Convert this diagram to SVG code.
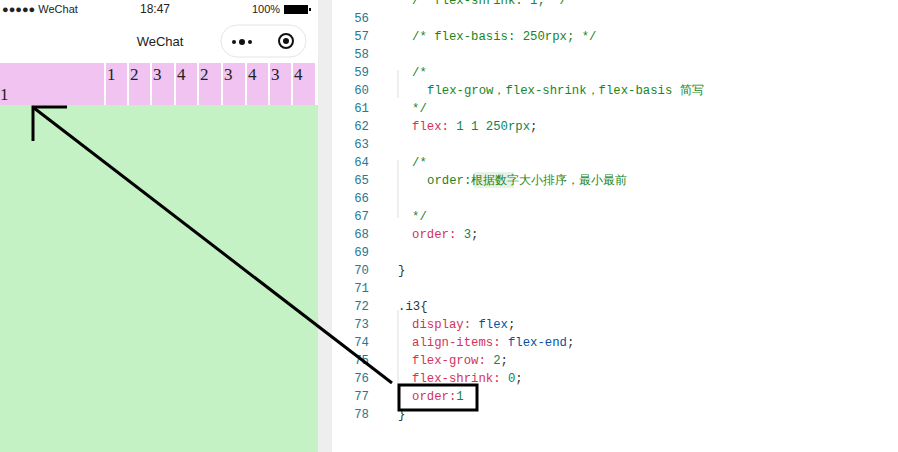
<svg xmlns="http://www.w3.org/2000/svg" width="898" height="452" viewBox="0 0 898 452">
<style>
.c{font-family:"Liberation Mono",monospace;font-size:12.3px}
.n{fill:#237893;text-anchor:end}
.cm{fill:#17861c}.p{fill:#d4325a}.v{fill:#098658}.b{fill:#0451a5}.k{fill:#333}
.d{font-family:"Liberation Serif",serif;font-size:17px;fill:#222}
.s{font-family:"Liberation Sans",sans-serif;fill:#222}
</style>
<rect width="898" height="452" fill="#fff"/>
<rect x="318" y="0" width="14" height="452" fill="#eeeeee"/>
<g id="phone">
<text class="s" x="2" y="13" font-size="11">●●●●● WeChat</text>
<text class="s" x="140" y="13" font-size="12">18:47</text>
<text class="s" x="252" y="13" font-size="11">100%</text>
<rect x="284" y="5" width="24" height="9" fill="#000"/><rect x="309" y="8" width="2" height="3" fill="#000"/>
<text class="s" x="160" y="46" font-size="13" text-anchor="middle">WeChat</text>
<rect x="221" y="25" width="85" height="32" rx="16" fill="#fff" stroke="#e5e5e5"/>
<circle cx="234" cy="42" r="2" fill="#111"/><circle cx="242" cy="42" r="3" fill="#111"/><circle cx="250" cy="42" r="2" fill="#111"/>
<circle cx="286" cy="41" r="7" fill="none" stroke="#111" stroke-width="2"/><circle cx="286" cy="41" r="3" fill="#111"/>
<rect x="0" y="63" width="318" height="42" fill="#f0c3f0"/>
<rect x="0" y="105" width="318" height="347" fill="#c5f2c5"/>
<g fill="#fff">
<rect x="104" y="63" width="2" height="42"/><rect x="127" y="63" width="2" height="42"/><rect x="150" y="63" width="2" height="42"/><rect x="174" y="63" width="2" height="42"/><rect x="197" y="63" width="2" height="42"/><rect x="221" y="63" width="2" height="42"/><rect x="245" y="63" width="2" height="42"/><rect x="268" y="63" width="2" height="42"/><rect x="291" y="63" width="2" height="42"/><rect x="315" y="63" width="3" height="42"/>
</g>
<text class="d" x="0" y="100">1</text>
<text class="d" x="107" y="80">1</text><text class="d" x="130" y="80">2</text><text class="d" x="153" y="80">3</text><text class="d" x="177" y="80">4</text><text class="d" x="200" y="80">2</text><text class="d" x="224" y="80">3</text><text class="d" x="248" y="80">4</text><text class="d" x="271" y="80">3</text><text class="d" x="294" y="80">4</text>
</g>
<g id="code" class="c">
<line x1="398" y1="70" x2="398" y2="98" stroke="#ddd"/>
<line x1="398" y1="160" x2="398" y2="218" stroke="#ddd"/>
<line x1="398" y1="310" x2="398" y2="400" stroke="#ddd"/>
<text class="n" x="369" y="22">56</text><text class="n" x="369" y="40">57</text><text class="n" x="369" y="58">58</text><text class="n" x="369" y="76">59</text><text class="n" x="369" y="94">60</text><text class="n" x="369" y="112">61</text><text class="n" x="369" y="130">62</text><text class="n" x="369" y="148">63</text><text class="n" x="369" y="166">64</text><text class="n" x="369" y="184">65</text><text class="n" x="369" y="202">66</text><text class="n" x="369" y="220">67</text><text class="n" x="369" y="238">68</text><text class="n" x="369" y="256">69</text><text class="n" x="369" y="274">70</text><text class="n" x="369" y="292">71</text><text class="n" x="369" y="310">72</text><text class="n" x="369" y="328">73</text><text class="n" x="369" y="346">74</text><text class="n" x="369" y="364">75</text><text class="n" x="369" y="382">76</text><text class="n" x="369" y="400">77</text><text class="n" x="369" y="418">78</text>
<text class="cm" x="412" y="4">/* flex-shrink: 1; */</text>
<text class="cm" x="412" y="40">/* flex-basis: 250rpx; */</text>
<text class="cm" x="412" y="76">/*</text>
<text class="cm" x="427" y="94">flex-grow，flex-shrink，flex-basis 简写</text>
<text class="cm" x="412" y="112">*/</text>
<text x="412" y="130"><tspan class="p">flex:</tspan><tspan class="v"> 1 1 250rpx</tspan><tspan class="k">;</tspan></text>
<text class="cm" x="412" y="166">/*</text>
<rect x="474" y="172" width="40" height="16" fill="#e6f2e6"/>
<text class="cm" x="427" y="184">order:根据数字大小排序，最小最前</text>
<text class="cm" x="412" y="220">*/</text>
<text x="412" y="238"><tspan class="p">order:</tspan><tspan class="v"> 3</tspan><tspan class="k">;</tspan></text>
<text class="k" x="398" y="274">}</text>
<text class="k" x="398" y="310">.i3{</text>
<text x="412" y="328"><tspan class="p">display:</tspan><tspan class="b"> flex</tspan><tspan class="k">;</tspan></text>
<text x="412" y="346"><tspan class="p">align-items:</tspan><tspan class="b"> flex-end</tspan><tspan class="k">;</tspan></text>
<text x="412" y="364"><tspan class="p">flex-grow:</tspan><tspan class="v"> 2</tspan><tspan class="k">;</tspan></text>
<text x="412" y="382"><tspan class="p">flex-shrink:</tspan><tspan class="v"> 0</tspan><tspan class="k">;</tspan></text>
<text x="412" y="400"><tspan class="p">order:</tspan><tspan class="v">1</tspan></text>
<text class="k" x="398" y="418">}</text>
</g>
<g id="connectors" stroke="#000" stroke-width="3" fill="none">
<line x1="392" y1="383" x2="34" y2="108"/>
<polyline points="67,107 33,107 33,141"/>
<rect x="399" y="385" width="78" height="25"/>
</g>
</svg>
